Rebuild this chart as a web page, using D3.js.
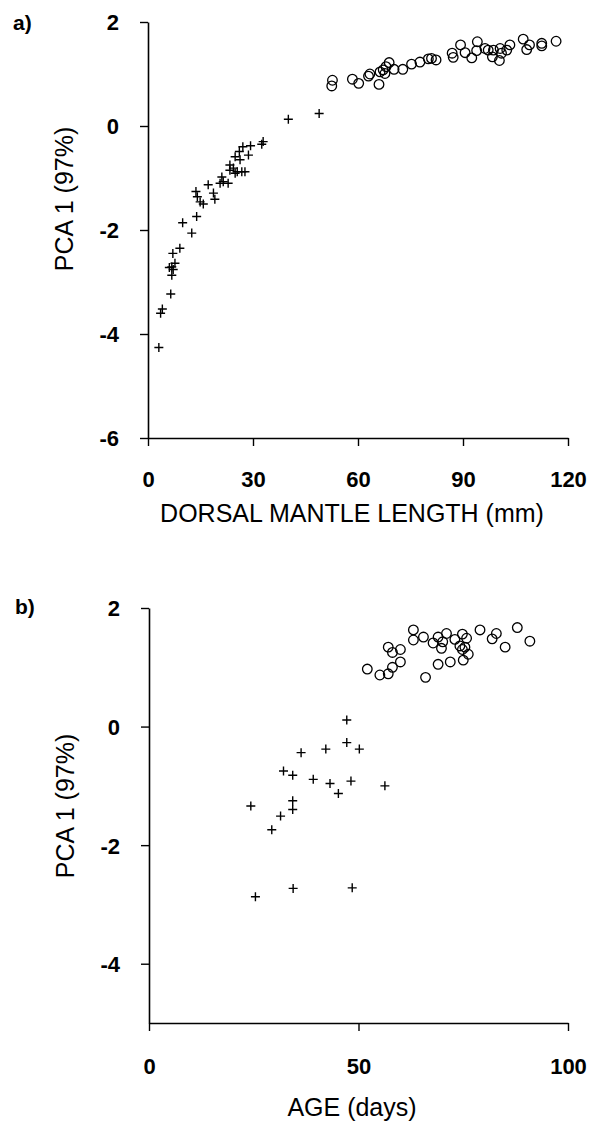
<!DOCTYPE html>
<html>
<head>
<meta charset="utf-8">
<script src="https://cdn.jsdelivr.net/npm/d3@7"></script>
<style>
  html, body { margin: 0; padding: 0; background: #fff; }
  svg { display: block; }
</style>
</head>
<body>
<script>
// ---------- Data ----------
// Panel a: DORSAL MANTLE LENGTH (mm) vs PCA 1
const aCrossX = [40.1, 48.9, 32.9, 32.5, 29.3, 27.1, 28.7, 26.1, 24.9, 26.3, 23.4, 24.4, 25.5, 26.8, 27.7, 24.9, 23.4, 21.1, 21.5, 22.9, 20.6, 17.2, 18.7, 19.1, 13.7, 14.1, 14.9, 15.8, 13.9, 9.9, 12.5, 9.1, 7.1, 7.7, 6.8, 6.1, 7.2, 6.8, 6.5, 4.1, 3.6, 3.1];
const aCrossY = [0.13, 0.24, -0.30, -0.35, -0.38, -0.40, -0.56, -0.49, -0.59, -0.65, -0.75, -0.81, -0.88, -0.88, -0.88, -0.91, -0.85, -0.98, -1.07, -1.10, -1.10, -1.13, -1.29, -1.41, -1.26, -1.36, -1.46, -1.50, -1.74, -1.86, -2.06, -2.35, -2.45, -2.64, -2.71, -2.72, -2.76, -2.87, -3.23, -3.52, -3.60, -4.26];
const aCircX = [52.7, 52.5, 58.4, 60.2, 63.0, 63.4, 66.0, 66.3, 67.2, 67.7, 68.9, 68.0, 70.3, 72.8, 75.3, 77.7, 80.1, 81.0, 82.3, 86.9, 87.2, 89.3, 90.6, 92.5, 94.1, 93.9, 96.3, 97.2, 98.4, 100.6, 100.4, 101.0, 102.5, 103.4, 107.2, 108.2, 109.0, 112.5, 112.5, 116.6, 98.7];
const aCircY = [0.88, 0.77, 0.90, 0.82, 0.96, 1.00, 0.80, 1.04, 1.08, 1.01, 1.22, 1.14, 1.09, 1.09, 1.19, 1.23, 1.29, 1.30, 1.27, 1.40, 1.32, 1.56, 1.41, 1.31, 1.62, 1.45, 1.49, 1.46, 1.33, 1.49, 1.26, 1.40, 1.46, 1.56, 1.67, 1.47, 1.56, 1.59, 1.54, 1.63, 1.46];
const aXTicks = [0, 30, 60, 90, 120];
const aYTicks = [2, 0, -2, -4, -6];

// Panel b: AGE (days) vs PCA 1
const bCrossX = [24.3, 32.1, 34.3, 34.3, 34.3, 31.4, 29.3, 47.2, 47.2, 50.2, 42.2, 36.3, 39.2, 43.2, 48.2, 45.2, 56.3, 25.4, 34.4, 48.5];
const bCrossY = [-1.34, -0.75, -0.82, -1.25, -1.40, -1.51, -1.74, 0.11, -0.27, -0.38, -0.38, -0.44, -0.89, -0.96, -0.92, -1.13, -1.00, -2.87, -2.73, -2.72];
const bCircX = [52.1, 55.1, 57.1, 58.1, 60.0, 57.1, 58.1, 60.0, 63.1, 63.1, 65.5, 66.0, 67.8, 69.0, 69.0, 70.1, 69.8, 71.0, 71.9, 73.0, 74.2, 74.8, 75.0, 74.8, 75.8, 76.2, 75.4, 79.0, 81.9, 82.9, 85.0, 87.9, 90.9];
const bCircY = [0.97, 0.87, 0.89, 1.00, 1.09, 1.34, 1.25, 1.30, 1.63, 1.46, 1.51, 0.83, 1.41, 1.51, 1.05, 1.43, 1.32, 1.57, 1.09, 1.47, 1.36, 1.56, 1.12, 1.30, 1.49, 1.22, 1.34, 1.63, 1.48, 1.57, 1.34, 1.67, 1.44];
const bXTicks = [0, 50, 100];
const bYTicks = [2, 0, -2, -4];

const yTitle = "PCA 1 (97%)";
const aXTitle = "DORSAL MANTLE LENGTH (mm)";
const bXTitle = "AGE (days)";

// ---------- Drawing ----------
const W = 590, H = 1129;
const FONT = "'Liberation Sans', Arial, sans-serif";
const svg = d3.select("body").append("svg").attr("width", W).attr("height", H)
  .style("font-family", FONT);
svg.append("rect").attr("width", W).attr("height", H).attr("fill", "#fff");

const fmt = d => String(d); // plain hyphen-minus as in the original

function panel(cfg) {
  const x = d3.scaleLinear().domain(cfg.xDomain).range([cfg.left, cfg.right]);
  const y = d3.scaleLinear().domain(cfg.yDomain).range([cfg.bottom, cfg.top]);
  const g = svg.append("g");

  const ya = g.append("g").attr("transform", `translate(${cfg.left},0)`)
    .call(d3.axisLeft(y).tickValues(cfg.yTicks).tickSize(8).tickSizeOuter(0).tickPadding(21)
      .tickFormat(fmt));
  const xa = g.append("g").attr("transform", `translate(0,${cfg.bottom})`)
    .call(d3.axisBottom(x).tickValues(cfg.xTicks).tickSize(8).tickSizeOuter(0)
      .tickFormat(fmt));
  [ya, xa].forEach(a => {
    a.select(".domain").attr("stroke", "#000").attr("stroke-width", 1.6);
    a.selectAll(".tick line").attr("stroke", "#000").attr("stroke-width", 1.4);
    a.selectAll(".tick text").attr("fill", "#000").attr("font-size", 22).attr("font-weight", "bold")
      .attr("font-family", FONT);
  });
  ya.selectAll(".tick text").attr("dy", "0.36em");
  xa.selectAll(".tick text").attr("y", cfg.xLabelBase - cfg.bottom).attr("dy", null);

  g.append("text").attr("transform", `translate(${cfg.yTitleX},${cfg.yTitleY}) rotate(-90)`)
    .attr("text-anchor", "middle").attr("font-size", 25).attr("fill", "#000")
    .text(yTitle);
  g.append("text").attr("x", cfg.xTitleX).attr("y", cfg.xTitleY)
    .attr("text-anchor", "middle").attr("font-size", 25).attr("fill", "#000")
    .text(cfg.xTitle);
  g.append("text").attr("x", cfg.tagX).attr("y", cfg.tagY)
    .attr("font-size", 21).attr("font-weight", "bold").attr("fill", "#000").text(cfg.tag);

  const crosses = cfg.crossX.map((v, i) => [v, cfg.crossY[i]]);
  const circles = cfg.circX.map((v, i) => [v, cfg.circY[i]]);
  g.append("g").selectAll("path").data(crosses).join("path")
    .attr("transform", d => `translate(${x(d[0])},${y(d[1])})`)
    .attr("d", "M-4.5,0H4.5M0,-4.5V4.5")
    .attr("stroke", "#000").attr("stroke-width", 1.4).attr("fill", "none");
  g.append("g").selectAll("circle").data(circles).join("circle")
    .attr("cx", d => x(d[0])).attr("cy", d => y(d[1])).attr("r", 4.8)
    .attr("stroke", "#000").attr("stroke-width", 1.3).attr("fill", "none");
}

panel({
  xDomain: [0, 120], yDomain: [-6, 2],
  left: 148, right: 568, top: 22, bottom: 438,
  xTicks: aXTicks, yTicks: aYTicks,
  xLabelBase: 487,
  yTitleX: 73, yTitleY: 199, xTitleX: 352, xTitleY: 522,
  xTitle: aXTitle, tag: "a)", tagX: 13, tagY: 30,
  crossX: aCrossX, crossY: aCrossY, circX: aCircX, circY: aCircY
});
panel({
  xDomain: [0, 100], yDomain: [-5, 2],
  left: 149, right: 568, top: 608, bottom: 1023,
  xTicks: bXTicks, yTicks: bYTicks,
  xLabelBase: 1074,
  yTitleX: 74, yTitleY: 806, xTitleX: 352, xTitleY: 1116,
  xTitle: bXTitle, tag: "b)", tagX: 15, tagY: 614,
  crossX: bCrossX, crossY: bCrossY, circX: bCircX, circY: bCircY
});
</script>
</body>
</html>
